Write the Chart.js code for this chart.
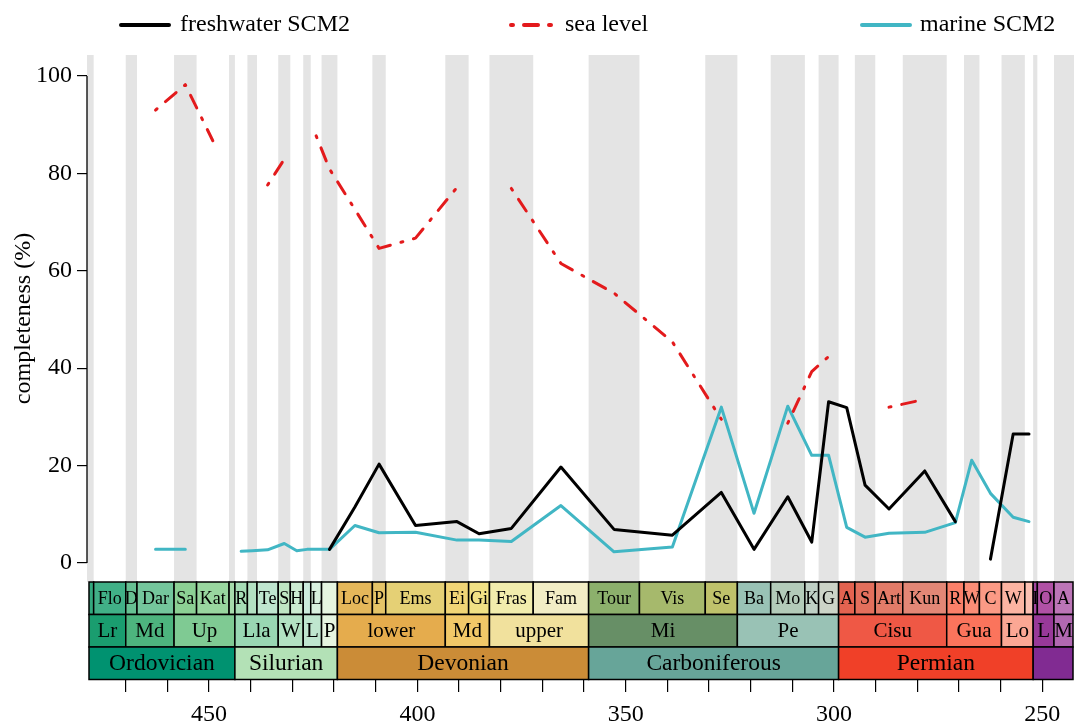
<!DOCTYPE html>
<html>
<head>
<meta charset="utf-8">
<script src="https://cdn.jsdelivr.net/npm/chart.js@4.4.0/dist/chart.umd.min.js"></script>
<style>
  html, body { margin: 0; padding: 0; background: #fff; }
  #wrap { width: 1075px; height: 722px; }
</style>
</head>
<body>
<div id="wrap"><canvas id="chart"></canvas></div>
<script>
// Stages (Ma), short labels and colours
const stageNames = ["", "Flo", "D", "Dar", "Sa", "Kat", "", "R", "", "Te", "S", "H", "", "L", "",
  "Loc", "P", "Ems", "Ei", "Gi", "Fras", "Fam", "Tour", "Vis", "Se", "Ba", "Mo", "K", "G",
  "A", "S", "Art", "Kun", "R", "W", "C", "W", "", "I", "O", "A"];
const stageStart = [485.4, 477.7, 470.0, 467.3, 458.4, 453.0, 445.2, 443.8, 440.8, 438.5, 433.4, 430.5, 427.4, 425.6, 423.0,
  419.2, 410.8, 407.6, 393.3, 387.7, 382.7, 372.2, 358.9, 346.7, 330.9, 323.2, 315.2, 307.0, 303.7,
  298.9, 295.0, 290.1, 283.5, 272.95, 268.8, 265.1, 259.8, 254.2, 252.2, 251.2, 247.2];
const stageEnd = [477.7, 470.0, 467.3, 458.4, 453.0, 445.2, 443.8, 440.8, 438.5, 433.4, 430.5, 427.4, 425.6, 423.0, 419.2,
  410.8, 407.6, 393.3, 387.7, 382.7, 372.2, 358.9, 346.7, 330.9, 323.2, 315.2, 307.0, 303.7, 298.9,
  295.0, 290.1, 283.5, 272.95, 268.8, 265.1, 259.8, 254.2, 252.2, 251.2, 247.2, 242.0];
const stageColors = ["#33A97E", "#41B087", "#66C092", "#74C69C", "#8CD094", "#99D69F", "#A6DBAB",
  "#A6DCB5", "#B3E1C2", "#BFE6CF", "#BFE6C3", "#CCEBD1", "#CCECDD", "#D9F0DF", "#E6F5E1",
  "#E5B75A", "#E5C468", "#E5D075", "#F1D576", "#F1E185", "#F2EDAD", "#F2EDC5",
  "#8CB06C", "#A6B96C", "#BFC26B", "#99C2B5", "#B3CBB9", "#BFD0C5", "#CCD4C7",
  "#E36350", "#E36F5C", "#E37B68", "#E38776", "#FB8069", "#FB8D76", "#FB9A85", "#FCB4A2", "#FCC0B2",
  "#A4469F", "#B051A5", "#BC75B7"];

const epochNames = ["Lr", "Md", "Up", "Lla", "W", "L", "P", "lower", "Md", "upper", "Mi", "Pe", "Cisu", "Gua", "Lo", "L", "M"];
const epochStart = [485.4, 470.0, 458.4, 443.8, 433.4, 427.4, 423.0, 419.2, 393.3, 382.7, 358.9, 323.2, 298.9, 272.95, 259.8, 252.2, 247.2];
const epochEnd = [470.0, 458.4, 443.8, 433.4, 427.4, 423.0, 419.2, 393.3, 382.7, 358.9, 323.2, 298.9, 272.95, 259.8, 252.2, 247.2, 237.0];
const epochColors = ["#1A9D6F", "#4DB47E", "#7FCA93", "#99D7B3", "#B3E1C2", "#BFE6CF", "#E6F5E1",
  "#E5AC4D", "#F1C868", "#F1E19D", "#678F66", "#99C2B5", "#EF5845", "#FB745C", "#FBA794", "#983999", "#B168B1"];

const periodNames = ["Ordovician", "Silurian", "Devonian", "Carboniferous", "Permian", ""];
const periodStart = [485.4, 443.8, 419.2, 358.9, 298.9, 252.2];
const periodEnd = [443.8, 419.2, 358.9, 298.9, 252.2, 201.3];
const periodColors = ["#009270", "#B3E1B6", "#CB8C37", "#67A599", "#F04028", "#812B92"];

// Completeness per stage (%), null = no value
const freshwater = [null, null, null, null, null, null, null, null, null, null, null, null, null, null, 2.8,
  11.5, 20.3, 7.7, 8.5, 6.0, 7.1, 19.7, 6.9, 5.7, 14.5, 2.8, 13.6, 4.3, 33.1,
  31.9, 16.0, 11.1, 18.9, 8.5, null, 0.8, 26.5, 26.5, null, null, null];
const marine = [null, null, null, 2.8, 2.8, null, null, 2.4, 2.5, 2.7, 4.0, 2.5, 2.8, 2.8, 2.8,
  7.7, 6.2, 6.3, 4.7, 4.7, 4.4, 11.8, 2.3, 3.3, 32.0, 10.2, 32.2, 22.1, 22.1,
  7.3, 5.3, 6.1, 6.3, 8.3, 21.1, 14.3, 9.4, 8.5, null, null, null];
const seaLevel = [null, null, null, 93.0, 98.2, 86.7, null, null, null, 77.6, 82.9, null, null, 87.7, 80.9,
  72.6, 64.6, 66.7, 77.1, null, 76.9, 61.5, 55.4, 45.4, 29.5, null, 28.7, 39.3, 42.4,
  null, null, 32.0, 33.6, null, null, null, null, null, null, null, null];

const xTicks = [470, 460, 450, 440, 430, 420, 410, 400, 390, 380, 370, 360, 350, 340, 330, 320, 310, 300, 290, 280, 270, 260, 250];
const yTicks = [0, 20, 40, 60, 80, 100];

const serif = "'Liberation Serif', 'DejaVu Serif', serif";

function toPoints(values) {
  return values.map((v, i) => ({ x: (stageStart[i] + stageEnd[i]) / 2, y: v }));
}

// Grey shading of every other stage behind the curves
const stageBands = {
  id: "stageBands",
  beforeDatasetsDraw(chart) {
    const { ctx, chartArea, scales: { x } } = chart;
    ctx.save();
    ctx.beginPath();
    ctx.rect(chartArea.left, chartArea.top, chartArea.width, chartArea.height);
    ctx.clip();
    ctx.fillStyle = "#e4e4e4";
    stageStart.forEach((s, i) => {
      if (i % 2 !== 0) return;
      const a = x.getPixelForValue(s), b = x.getPixelForValue(stageEnd[i]);
      ctx.fillRect(Math.min(a, b), chartArea.top, Math.abs(b - a), chartArea.height);
    });
    ctx.restore();
  }
};

function drawRow(ctx, xs, area, y0, h, names, starts, ends, colors, fontPx) {
  const left = area.left + 2, right = area.right - 1;
  ctx.font = fontPx + "px " + serif;
  ctx.textAlign = "center";
  ctx.textBaseline = "middle";
  names.forEach((name, i) => {
    const a = xs.getPixelForValue(starts[i]), b = xs.getPixelForValue(ends[i]);
    const l = Math.max(Math.min(a, b), left), r = Math.min(Math.max(a, b), right);
    if (r <= l) return;
    ctx.fillStyle = colors[i];
    ctx.fillRect(l, y0, r - l, h);
    ctx.strokeRect(l, y0, r - l, h);
    if (name) {
      ctx.fillStyle = "#000";
      ctx.fillText(name, (l + r) / 2, y0 + h / 2 + 1);
    }
  });
}

// Geological time scale strip, y axis line and legend
const timeScale = {
  id: "timeScale",
  afterDraw(chart) {
    const { ctx, chartArea, scales: { x, y } } = chart;
    const rowH = 32.5;
    const top = chartArea.bottom;
    ctx.save();
    ctx.strokeStyle = "#000";
    ctx.lineWidth = 1.5;
    drawRow(ctx, x, chartArea, top, rowH, stageNames, stageStart, stageEnd, stageColors, 18);
    drawRow(ctx, x, chartArea, top + rowH, rowH, epochNames, epochStart, epochEnd, epochColors, 21);
    drawRow(ctx, x, chartArea, top + 2 * rowH, rowH, periodNames, periodStart, periodEnd, periodColors, 23.5);

    // y axis line spanning the tick range only
    ctx.lineWidth = 1.3;
    ctx.beginPath();
    ctx.moveTo(chartArea.left, y.getPixelForValue(yTicks[0]));
    ctx.lineTo(chartArea.left, y.getPixelForValue(yTicks[yTicks.length - 1]));
    ctx.stroke();

    // legend
    const items = [[0, 121, 169, 180], [1, 511, 553, 565], [2, 862, 910, 920]];
    ctx.font = "24px " + serif;
    ctx.textAlign = "left";
    ctx.textBaseline = "middle";
    items.forEach(([di, x0, x1, tx]) => {
      const ds = chart.data.datasets[di];
      ctx.strokeStyle = ds.borderColor;
      ctx.lineWidth = 4;
      ctx.lineCap = "round";
      ctx.setLineDash(ds.borderDash || []);
      ctx.beginPath();
      ctx.moveTo(x0, 25);
      ctx.lineTo(x1, 25);
      ctx.stroke();
      ctx.setLineDash([]);
      ctx.fillStyle = "#000";
      ctx.fillText(ds.label, tx, 25);
    });
    ctx.restore();
  }
};

const lineStyle = { pointRadius: 0, borderWidth: 3, tension: 0, borderCapStyle: "round", borderJoinStyle: "round", spanGaps: false };

new Chart(document.getElementById("chart"), {
  type: "line",
  data: {
    datasets: [
      Object.assign({ label: "freshwater SCM2", data: toPoints(freshwater), borderColor: "#000000" }, lineStyle),
      Object.assign({ label: "sea level", data: toPoints(seaLevel), borderColor: "#E31A1C", borderDash: [2, 11, 14, 11] }, lineStyle),
      Object.assign({ label: "marine SCM2", data: toPoints(marine), borderColor: "#41B6C4" }, lineStyle)
    ]
  },
  options: {
    responsive: true,
    maintainAspectRatio: false,
    animation: false,
    layout: { padding: { top: 55, right: 1, left: 0, bottom: 0 } },
    plugins: { legend: { display: false }, tooltip: { enabled: false } },
    scales: {
      x: {
        type: "linear",
        min: 242.4,
        max: 479.3,
        reverse: true,
        afterBuildTicks: s => { s.ticks = xTicks.map(v => ({ value: v })); },
        afterFit: s => { s.height = 140; },
        border: { display: false },
        grid: { drawOnChartArea: false, tickLength: 110, color: "#000", lineWidth: 1.2 },
        ticks: {
          autoSkip: false, maxRotation: 0, padding: 8, color: "#000",
          font: { family: serif, size: 24 },
          callback: v => (v % 50 === 0 ? String(v) : "")
        }
      },
      y: {
        min: -3.9,
        max: 104.3,
        afterBuildTicks: s => { s.ticks = yTicks.map(v => ({ value: v })); },
        afterFit: s => { s.width = 87; },
        border: { display: false },
        grid: { drawOnChartArea: false, tickLength: 10, color: "#000", lineWidth: 1.2 },
        ticks: { padding: 5, color: "#000", font: { family: serif, size: 24 } },
        title: { display: true, text: "completeness (%)", color: "#000", font: { family: serif, size: 24 }, padding: { top: 9, bottom: 0 } }
      }
    }
  },
  plugins: [stageBands, timeScale]
});
</script>
</body>
</html>
